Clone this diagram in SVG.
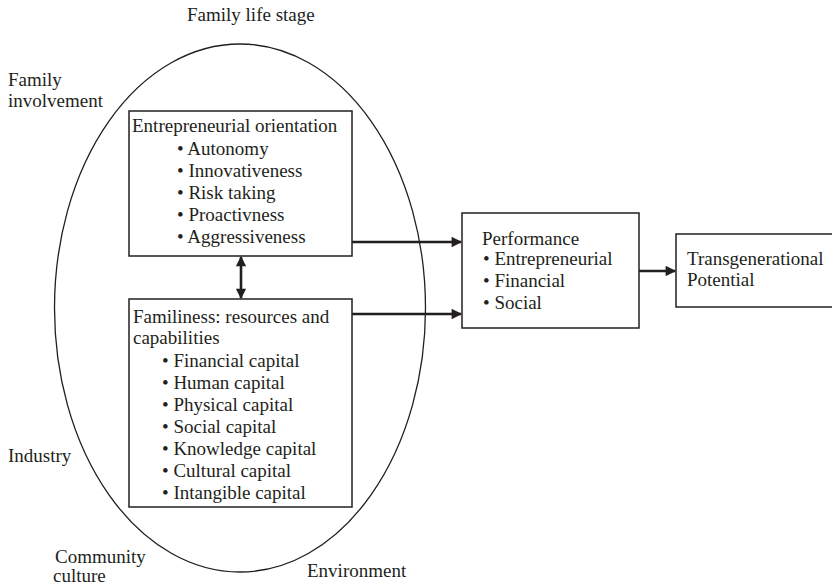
<svg xmlns="http://www.w3.org/2000/svg" width="832" height="585" viewBox="0 0 832 585">
<style>
text{font-family:"Liberation Serif","Times New Roman",serif;font-size:19px;fill:#231f20}
.box{fill:#fff;stroke:#231f20;stroke-width:1.5}
.conn{stroke:#231f20;stroke-width:2.6;fill:none}
</style>
<defs>
<marker id="ah" viewBox="0 0 10 10" refX="9" refY="5" markerWidth="4.4" markerHeight="4" orient="auto-start-reverse" markerUnits="strokeWidth">
<path d="M0,0 L10,5 L0,10 z" fill="#231f20"/>
</marker>
</defs>
<rect width="832" height="585" fill="#fff"/>
<g id="context">
<ellipse cx="240" cy="308" rx="185.5" ry="264" fill="none" stroke="#231f20" stroke-width="1.3"/>
<text x="187" y="21">Family life stage</text>
<text x="8" y="86">Family</text>
<text x="8" y="107">involvement</text>
<text x="8" y="462">Industry</text>
<text x="55" y="563">Community</text>
<text x="53" y="582">culture</text>
<text x="307" y="577">Environment</text>
</g>
<g id="eo">
<rect class="box" x="129" y="111" width="223" height="145"/>
<text x="132" y="132">Entrepreneurial orientation</text>
<text x="177" y="155">• Autonomy</text>
<text x="177" y="177">• Innovativeness</text>
<text x="177" y="199">• Risk taking</text>
<text x="177" y="221">• Proactivness</text>
<text x="177" y="243">• Aggressiveness</text>
</g>
<g id="familiness">
<rect class="box" x="129" y="299" width="223" height="208"/>
<text x="133" y="323">Familiness: resources and</text>
<text x="133" y="344">capabilities</text>
<text x="162" y="367">• Financial capital</text>
<text x="162" y="389">• Human capital</text>
<text x="162" y="411">• Physical capital</text>
<text x="162" y="433">• Social capital</text>
<text x="162" y="455">• Knowledge capital</text>
<text x="162" y="477">• Cultural capital</text>
<text x="162" y="499">• Intangible capital</text>
</g>
<g id="performance">
<rect class="box" x="462" y="213" width="177" height="115"/>
<text x="482" y="245">Performance</text>
<text x="483" y="265">• Entrepreneurial</text>
<text x="483" y="287">• Financial</text>
<text x="483" y="309">• Social</text>
</g>
<g id="transgenerational">
<rect class="box" x="676" y="234" width="160" height="73"/>
<text x="687" y="265">Transgenerational</text>
<text x="687" y="286">Potential</text>
</g>
<g id="connectors">
<line class="conn" x1="352" y1="242" x2="461" y2="242" marker-end="url(#ah)"/>
<line class="conn" x1="352" y1="314" x2="461" y2="314" marker-end="url(#ah)"/>
<line class="conn" x1="639" y1="271" x2="675" y2="271" marker-end="url(#ah)"/>
<line class="conn" x1="241" y1="257" x2="241" y2="298" marker-start="url(#ah)" marker-end="url(#ah)"/>
</g>
</svg>
